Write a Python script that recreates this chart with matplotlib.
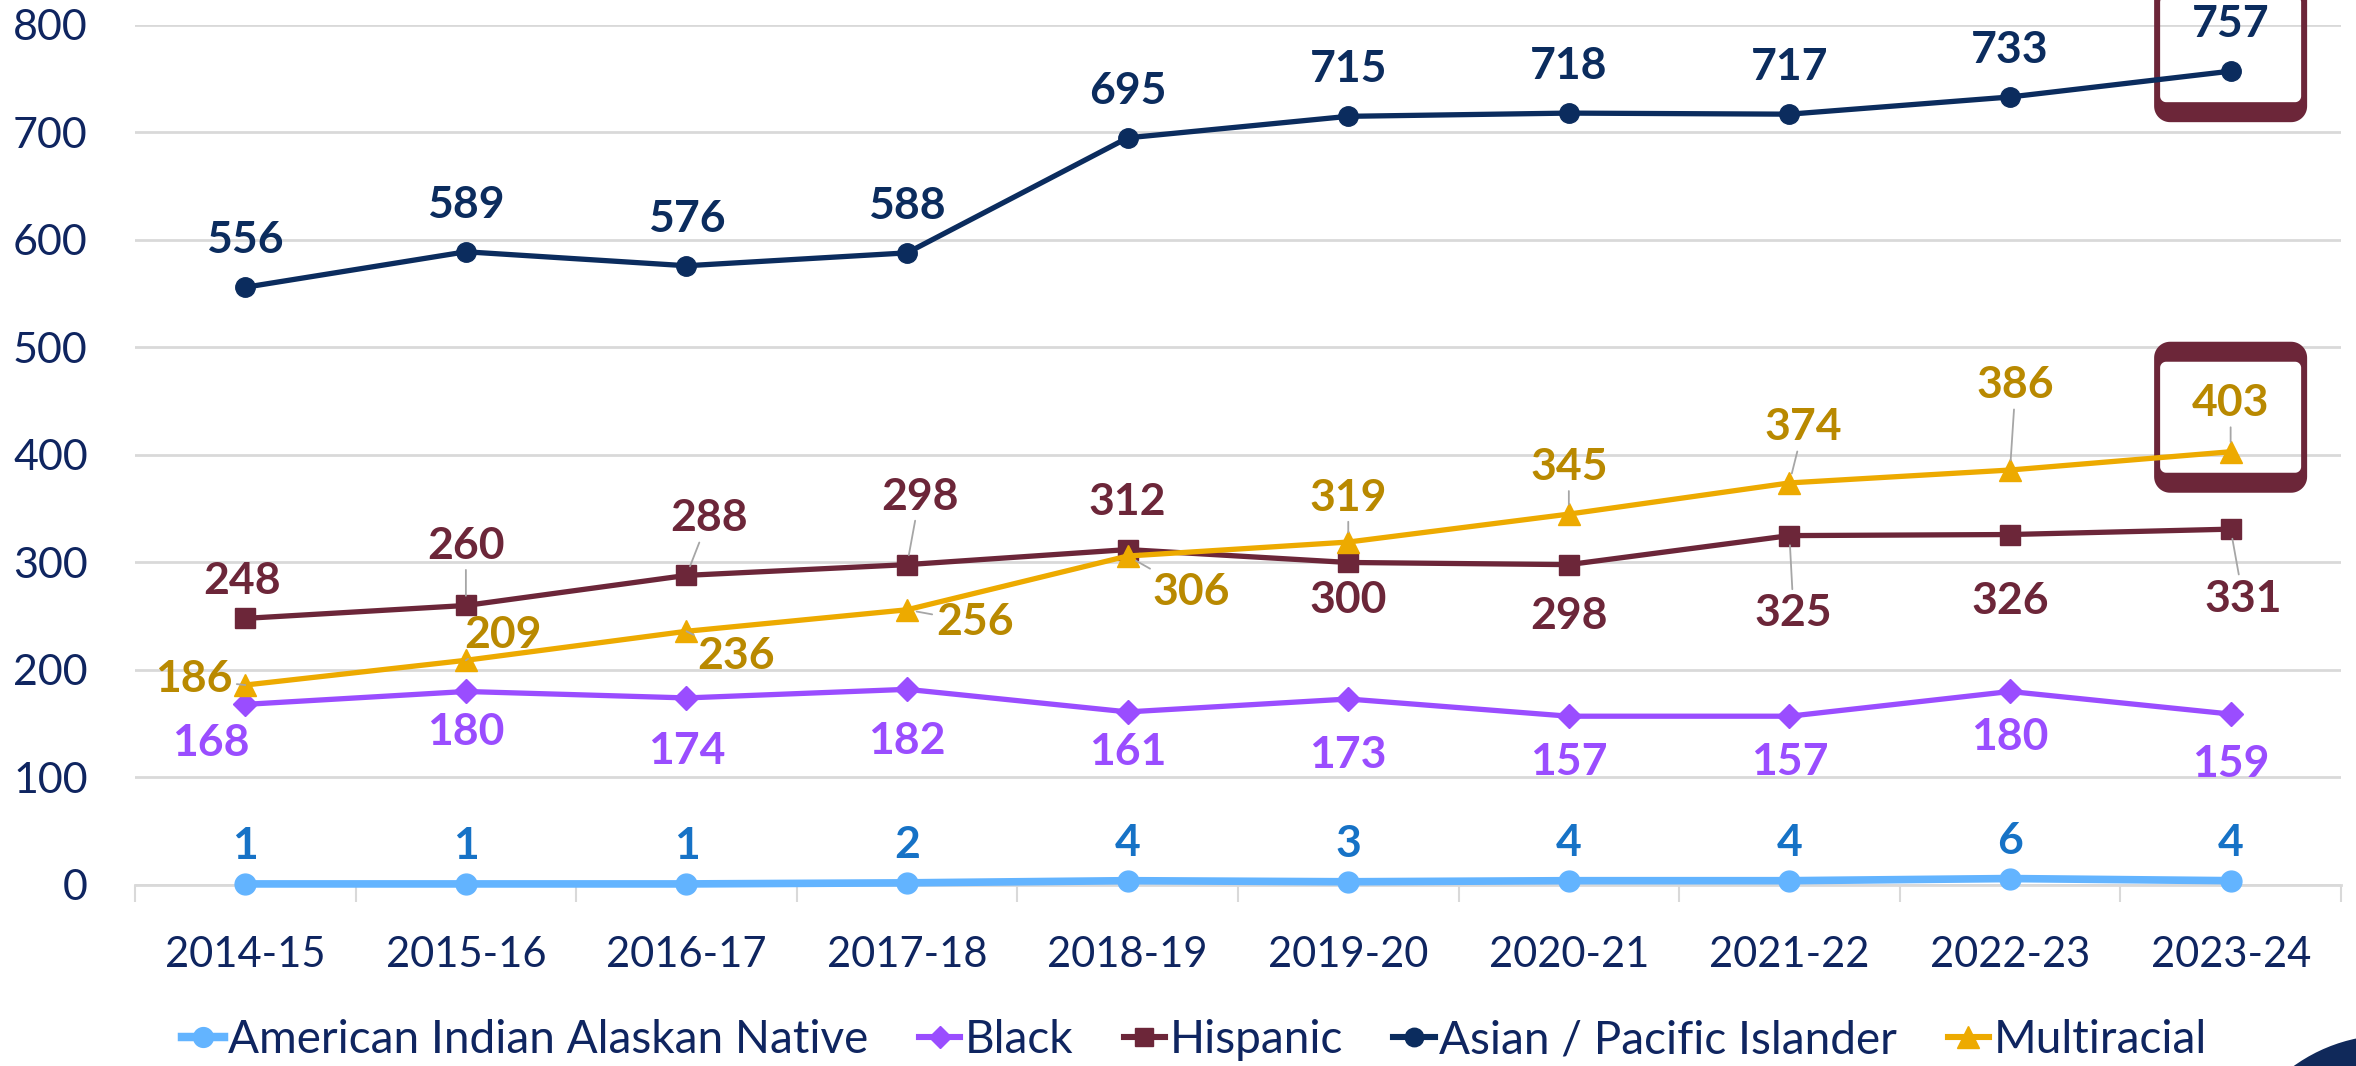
import numpy as np
import matplotlib
matplotlib.use('Agg')
import matplotlib.pyplot as plt
import matplotlib.transforms as mtransforms
from matplotlib.path import Path
from matplotlib.patches import PathPatch, Circle
from matplotlib.lines import Line2D

plt.rcParams['font.family'] = ['Lato', 'DejaVu Sans']

# data
years = ['2014-15', '2015-16', '2016-17', '2017-18', '2018-19',
         '2019-20', '2020-21', '2021-22', '2022-23', '2023-24']
am_indian = [1, 1, 1, 2, 4, 3, 4, 4, 6, 4]
black = [168, 180, 174, 182, 161, 173, 157, 157, 180, 159]
hispanic = [248, 260, 288, 298, 312, 300, 298, 325, 326, 331]
asian = [556, 589, 576, 588, 695, 715, 718, 717, 733, 757]
multiracial = [186, 209, 236, 256, 306, 319, 345, 374, 386, 403]

# label offsets (points) and leader lines
am_off = [(0, 27)] * 10
black_off = [(-25, -28), (0, -29), (0, -38), (0, -37), (0, -29),
             (0, -40), (0, -33), (0, -33), (0, -33), (0, -36)]
hisp_off = [(-2, 27), (0, 43), (16, 41), (9, 49), (0, 34),
            (0, -27), (0, -37), (3, -56), (0, -48), (9, -50)]
asian_off = [(0, 34)] * 10
multi_off = [(-37, 4), (27, 18), (36, -18), (49, -9), (46, -26),
             (0, 32), (0, 34), (10, 40), (4, 61), (0, 35)]
hisp_lead = [0, 1, 1, 1, 0, 0, 0, 1, 0, 1]
multi_lead = [1] * 10

NAVY = '#0B2C5E'
TEXT = '#0F2560'
GRID = '#D9D9D9'
MAROON = '#6C2639'

series = [
    ('American Indian Alaskan Native', am_indian, '#63B4FF', '#1672C6', 'o', 15, 5.5, am_off, [0] * 10),
    ('Black', black, '#9A4DFF', '#9A4DFF', 'D', 12, 3.8, black_off, [0] * 10),
    ('Hispanic', hispanic, MAROON, MAROON, 's', 14, 3.8, hisp_off, hisp_lead),
    ('Asian / Pacific Islander', asian, NAVY, NAVY, 'o', 14, 3.8, asian_off, [0] * 10),
    ('Multiracial', multiracial, '#EDAA00', '#B98900', '^', 16, 3.8, multi_off, multi_lead),
]

fig = plt.figure(figsize=(23.56, 10.66), dpi=100)
ax = fig.add_axes([0.0573, 0.1698, 0.9363, 0.8068])

x = np.arange(len(years))
handles = []
for name, vals, col, lcol, mk, ms, lw, offs, leads in series:
    ax.plot(x, vals, color=col, lw=lw, marker=mk, markersize=ms,
            zorder=4, clip_on=False, solid_joinstyle='round')
    for i, v in enumerate(vals):
        ap = None
        if leads[i]:
            ap = dict(arrowstyle='-', color='#A6A6A6', lw=1.3, shrinkA=1, shrinkB=7)
        ax.annotate(str(v), xy=(i, v), xytext=offs[i], textcoords='offset points',
                    ha='center', va='center', fontsize=32, fontweight='bold',
                    color=lcol, arrowprops=ap, annotation_clip=False, zorder=6)
    handles.append(Line2D([], [], color=col, lw=lw + 0.6, marker=mk, markersize=ms * 0.95, label=name))

ax.set_xlim(-0.5, len(years) - 0.5)
ax.set_ylim(0, 800)
ax.set_yticks(range(0, 801, 100))
ax.set_xticks(x)
ax.set_xticklabels(years)
ax.set_xticks(np.arange(-0.5, len(years), 1), minor=True)
ax.tick_params(axis='x', which='major', length=0, pad=37, labelsize=30, labelcolor=TEXT)
ax.tick_params(axis='x', which='minor', length=12, width=1.5, color=GRID, direction='out')
ax.tick_params(axis='y', length=0, pad=34, labelsize=31, labelcolor=TEXT)
ax.grid(axis='y', color=GRID, lw=2)
ax.set_axisbelow(True)
for s in ['top', 'left', 'right']:
    ax.spines[s].set_visible(False)
ax.spines['bottom'].set_color(GRID)
ax.spines['bottom'].set_linewidth(2)


def rounded(x0, y0, x1, y1, r, n=16):
    pts = []
    for cx, cy, a0 in [(x1 - r, y0 + r, -90), (x1 - r, y1 - r, 0),
                       (x0 + r, y1 - r, 90), (x0 + r, y0 + r, 180)]:
        t = np.radians(np.linspace(a0, a0 + 90, n))
        pts += list(zip(cx + r * np.cos(t), cy + r * np.sin(t)))
    return np.array(pts)


def frame(xi, yv, left, right, bottom, top, side=0.06, band_b=0.2, band_t=0.2):
    outer = rounded(left, bottom, right, top, 0.16)
    inner = rounded(left + side, bottom + band_b, right - side, top - band_t, 0.06)[::-1]
    verts = np.vstack([outer, outer[:1], inner, inner[:1]])
    codes = ([Path.MOVETO] + [Path.LINETO] * (len(outer) - 1) + [Path.CLOSEPOLY]
             + [Path.MOVETO] + [Path.LINETO] * (len(inner) - 1) + [Path.CLOSEPOLY])
    trans = fig.dpi_scale_trans + mtransforms.ScaledTranslation(xi, yv, ax.transData)
    ax.add_patch(PathPatch(Path(verts, codes), facecolor=MAROON, edgecolor='none',
                           transform=trans, clip_on=False, zorder=3))


# highlight boxes around the latest values
frame(9, asian[9], -0.765, 0.765, -0.51, 0.95)
frame(9, multiracial[9], -0.765, 0.765, -0.41, 1.10)

leg = fig.legend(handles=handles, loc='center', bbox_to_anchor=(0.507, 0.024), ncol=5,
                 frameon=False, fontsize=33, handlelength=0.9, handletextpad=0.1,
                 columnspacing=1.1, borderaxespad=0)
for t in leg.get_texts():
    t.set_color(TEXT)

# logo corner
fig.add_artist(Circle((23.90, -1.34), 1.65, transform=fig.dpi_scale_trans,
                      facecolor='#10295A', edgecolor='none'))

fig.savefig('out.png', dpi=100)
